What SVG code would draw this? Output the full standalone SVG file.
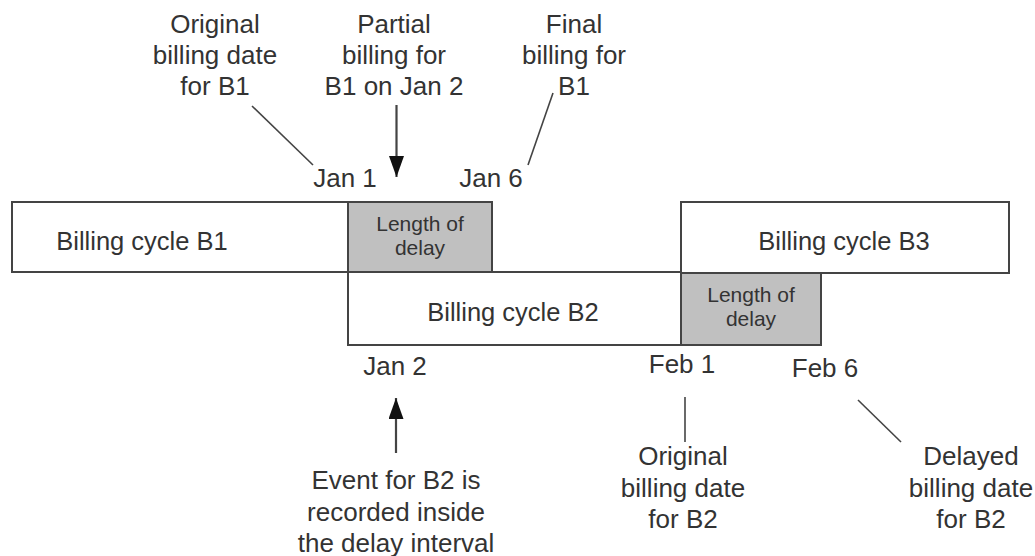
<svg xmlns="http://www.w3.org/2000/svg" width="1035" height="556" viewBox="0 0 1035 556">
<style>
  text { font-family: "Liberation Sans", Arial, sans-serif; fill: #333; text-anchor: middle; }
  .ann { font-size: 26px; }
  .cyc { font-size: 25.5px; }
  .dl { font-size: 21px; }
  .box { fill: #fff; stroke: #444; stroke-width: 2; }
  .gray { fill: #c0c0c0; stroke: #444; stroke-width: 2; }
  .ln { stroke: #444; stroke-width: 1.6; fill: none; }
  .arr { stroke: #444; stroke-width: 2.2; fill: none; }
</style>
<defs>
  <marker id="ah" viewBox="0 0 10 10" refX="10" refY="5" markerWidth="21" markerHeight="15" markerUnits="userSpaceOnUse" orient="auto" preserveAspectRatio="none">
    <path d="M0,0 L10,5 L0,10 Z" fill="#111"/>
  </marker>
</defs>
<rect width="1035" height="556" fill="#fff"/>

<g id="b1">
  <rect class="box" x="12" y="202" width="336" height="70"/>
  <text class="cyc" x="142" y="250">Billing cycle B1</text>
</g>
<g id="b2">
  <rect class="box" x="348" y="272" width="334" height="73"/>
  <text class="cyc" x="513" y="321">Billing cycle B2</text>
</g>
<g id="b3">
  <rect class="box" x="681" y="202" width="328" height="71"/>
  <text class="cyc" x="844" y="250">Billing cycle B3</text>
</g>
<g id="delay1">
  <rect class="gray" x="348" y="202" width="144" height="70"/>
  <text class="dl" x="420" y="231">Length of</text>
  <text class="dl" x="420" y="255">delay</text>
</g>
<g id="delay2">
  <rect class="gray" x="681" y="273" width="140" height="72"/>
  <text class="dl" x="751" y="302">Length of</text>
  <text class="dl" x="751" y="326">delay</text>
</g>

<g id="lbl-orig-b1">
  <text class="ann" x="215" y="33">Original</text>
  <text class="ann" x="215" y="64">billing date</text>
  <text class="ann" x="215" y="95">for B1</text>
</g>
<g id="lbl-partial">
  <text class="ann" x="394" y="33">Partial</text>
  <text class="ann" x="394" y="64">billing for</text>
  <text class="ann" x="394" y="95">B1 on Jan 2</text>
</g>
<g id="lbl-final">
  <text class="ann" x="574" y="33">Final</text>
  <text class="ann" x="574" y="64">billing for</text>
  <text class="ann" x="574" y="95">B1</text>
</g>
<g id="jan1"><text class="ann" x="345" y="187">Jan 1</text></g>
<g id="jan6"><text class="ann" x="491" y="187">Jan 6</text></g>
<g id="jan2"><text class="ann" x="395" y="375">Jan 2</text></g>
<g id="feb1"><text class="ann" x="682" y="373">Feb 1</text></g>
<g id="feb6"><text class="ann" x="825" y="377">Feb 6</text></g>
<g id="lbl-event">
  <text class="ann" x="396" y="489">Event for B2 is</text>
  <text class="ann" x="396" y="521">recorded inside</text>
  <text class="ann" x="396" y="552">the delay interval</text>
</g>
<g id="lbl-orig-b2">
  <text class="ann" x="683" y="465">Original</text>
  <text class="ann" x="683" y="497">billing date</text>
  <text class="ann" x="683" y="528">for B2</text>
</g>
<g id="lbl-delayed-b2">
  <text class="ann" x="971" y="465">Delayed</text>
  <text class="ann" x="971" y="497">billing date</text>
  <text class="ann" x="971" y="528">for B2</text>
</g>

<g id="connectors">
  <line class="ln" x1="252" y1="106" x2="313" y2="165"/>
  <line class="arr" x1="396.5" y1="105" x2="396.5" y2="177" marker-end="url(#ah)"/>
  <line class="ln" x1="553" y1="93" x2="528" y2="165"/>
  <line class="arr" x1="396" y1="453" x2="396" y2="398" marker-end="url(#ah)"/>
  <line class="ln" x1="685" y1="397" x2="685" y2="442"/>
  <line class="ln" x1="858" y1="400" x2="901" y2="442"/>
</g>
</svg>
